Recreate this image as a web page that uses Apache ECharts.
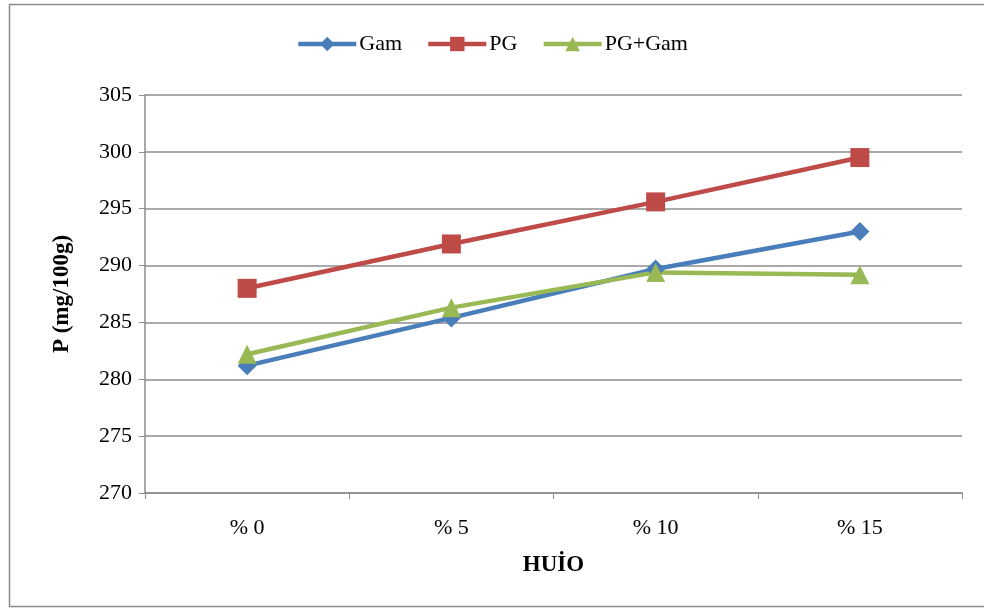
<!DOCTYPE html>
<html>
<head>
<meta charset="utf-8">
<script src="https://cdn.jsdelivr.net/npm/echarts@6/dist/echarts.min.js"></script>
<style>html,body{margin:0;padding:0;background:#fff}#c{width:984px;height:610px}</style>
</head>
<body>
<div id="c"></div>
<script>
const categories = ['% 0', '% 5', '% 10', '% 15'];
const gam = [281.2, 285.4, 289.7, 293.0];
const pg = [288.0, 291.9, 295.6, 299.5];
const pgGam = [282.2, 286.3, 289.4, 289.2];
const seriesNames = ['Gam', 'PG', 'PG+Gam'];
const colors = ['#4a7ebb', '#be4b48', '#98b954'];

const font = 'Liberation Serif, Times New Roman, serif';
const chart = echarts.init(document.getElementById('c'));
function mk(name, data, color, symbol, size) {
  return {
    name, type: 'line', data, symbol, symbolSize: size,
    lineStyle: { color, width: 4.5 },
    itemStyle: { color },
    z: 3
  };
}
chart.setOption({
  animation: false,
  textStyle: { fontFamily: font },
  graphic: [{
    type: 'rect', shape: { x: 9.5, y: 4.5, width: 980, height: 602 },
    style: { fill: 'none', stroke: '#8c8c8c', lineWidth: 1.5 }, silent: true
  }],
  legend: {
    top: 28, left: 'center', itemGap: 24, itemWidth: 58, itemHeight: 18,
    textStyle: { fontFamily: font, fontSize: 22, color: '#000', padding: [0, 0, 0, -2] },
    lineStyle: { width: 4.5 },
    data: seriesNames
  },
  grid: { left: 145, right: 22, top: 95, bottom: 117 },
  xAxis: {
    type: 'category', data: categories, boundaryGap: true,
    axisLine: { lineStyle: { color: '#8c8c8c', width: 1.5 } },
    axisTick: { show: true, length: 6, lineStyle: { color: '#8c8c8c' } },
    axisLabel: { fontFamily: font, fontSize: 22, color: '#000', margin: 24 },
    name: 'HUİO', nameLocation: 'middle', nameGap: 61,
    nameTextStyle: { fontFamily: font, fontSize: 23, fontWeight: 'bold', color: '#000' }
  },
  yAxis: {
    type: 'value', min: 270, max: 305, interval: 5,
    axisLine: { show: true, lineStyle: { color: '#8c8c8c', width: 1.5 } },
    axisTick: { show: true, inside: false, length: 6, lineStyle: { color: '#8c8c8c' } },
    splitLine: { lineStyle: { color: '#8c8c8c', width: 1.5 } },
    axisLabel: { fontFamily: font, fontSize: 22, color: '#000', margin: 13 },
    name: 'P (mg/100g)', nameLocation: 'middle', nameGap: 71, nameRotate: 90,
    nameTextStyle: { fontFamily: font, fontSize: 23, fontWeight: 'bold', color: '#000' }
  },
  series: [
    mk(seriesNames[0], gam, colors[0], 'diamond', 19),
    mk(seriesNames[1], pg, colors[1], 'rect', 19),
    mk(seriesNames[2], pgGam, colors[2], 'triangle', 19)
  ]
});
</script>
</body>
</html>
